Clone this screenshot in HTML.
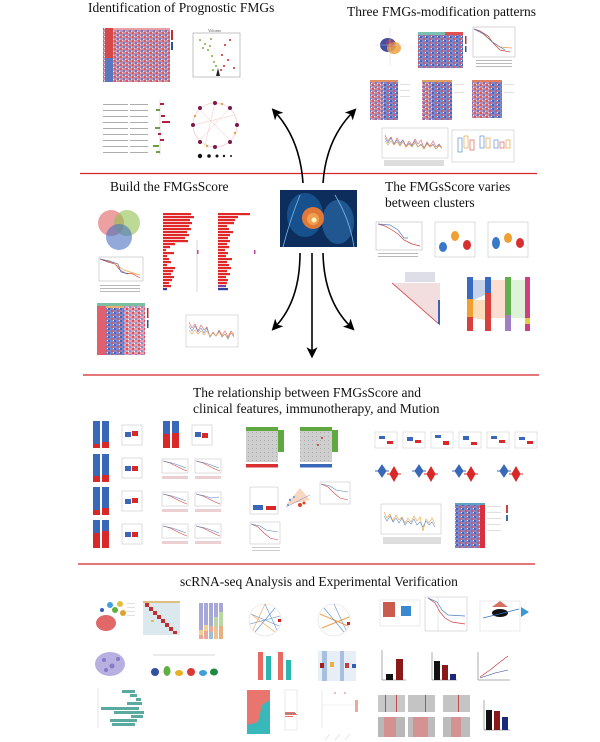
<!DOCTYPE html>
<html><head><meta charset="utf-8"><style>
html,body{margin:0;padding:0;background:#fff}
svg{display:block}
text{font-family:"Liberation Serif",serif;fill:#111}
.t{font-size:13.5px}
.s{font-size:4px;fill:#555}
</style></head><body>
<svg width="600" height="742" viewBox="0 0 600 742" xmlns="http://www.w3.org/2000/svg">
<defs>
<pattern id="hm" width="6" height="4" patternUnits="userSpaceOnUse">
<rect width="6" height="4" fill="#c890a8"/>
<rect x="0" y="0" width="2" height="2" fill="#d85860"/>
<rect x="3" y="2" width="2" height="2" fill="#6a78c4"/>
<rect x="2" y="0" width="1" height="1" fill="#f0e0e8"/>
<rect x="5" y="3" width="1" height="1" fill="#f0e0e8"/>
</pattern>
<pattern id="hmb" width="6" height="4" patternUnits="userSpaceOnUse">
<rect width="6" height="4" fill="#8088c8"/>
<rect x="0" y="0" width="2" height="2" fill="#5060b8"/>
<rect x="3" y="2" width="2" height="2" fill="#c85868"/>
<rect x="5" y="0" width="1" height="1" fill="#eee"/>
</pattern>
<pattern id="hmr" width="6" height="4" patternUnits="userSpaceOnUse">
<rect width="6" height="4" fill="#e0a0b0"/>
<rect x="0" y="0" width="2" height="2" fill="#d85060"/>
<rect x="3" y="2" width="2" height="2" fill="#8890d0"/>
<rect x="2" y="3" width="1" height="1" fill="#fff"/>
</pattern>
<pattern id="gr" width="4" height="4" patternUnits="userSpaceOnUse">
<rect width="4" height="4" fill="#cfcfcf"/><rect width="1" height="1" fill="#aaa"/>
</pattern>
<marker id="ah" markerWidth="7" markerHeight="7" refX="3" refY="3.5" orient="auto" markerUnits="strokeWidth">
<path d="M0,0 L7,3.5 L0,7 L1.8,3.5 z" fill="#000"/>
</marker>
</defs>

<text class="t" x="88" y="12">Identification of Prognostic FMGs</text>
<text class="t" x="347" y="16">Three FMGs-modification patterns</text>
<text class="t" x="110" y="191">Build the FMGsScore</text>
<text class="t" x="385" y="191">The FMGsScore varies</text>
<text class="t" x="385" y="207">between clusters</text>
<text class="t" x="193" y="397">The relationship between FMGsScore and</text>
<text class="t" x="193" y="413">clinical features, immunotherapy, and Mution</text>
<text class="t" x="180" y="586">scRNA-seq Analysis and Experimental Verification</text>

<line x1="80" y1="173.5" x2="537" y2="173.5" stroke="#d42828" stroke-width="1.2"/>
<line x1="83" y1="375" x2="539" y2="375" stroke="#d42828" stroke-width="1.2"/>
<line x1="78" y1="564" x2="535" y2="564" stroke="#d42828" stroke-width="1.2"/>

<rect x="103" y="28" width="67" height="54" fill="url(#hm)"/>
<rect x="105" y="28" width="8" height="30" fill="#d84848"/>
<rect x="105" y="58" width="8" height="24" fill="#5a78c0"/>
<rect x="113" y="28" width="57" height="2" fill="#e8a0a8"/>
<rect x="171" y="30" width="2" height="10" fill="#c03030"/><rect x="171" y="42" width="2" height="8" fill="#3050a0"/>
<rect x="193" y="33" width="47" height="44" fill="none" stroke="#888" stroke-width="0.5"/>
<g fill="#7ab040"><circle cx="200" cy="40" r="1"/><circle cx="205" cy="44" r="1"/><circle cx="208" cy="50" r="1"/><circle cx="212" cy="56" r="1"/><circle cx="214" cy="62" r="1"/><circle cx="210" cy="46" r="1"/><circle cx="216" cy="66" r="1"/><circle cx="213" cy="70" r="1"/><circle cx="203" cy="48" r="1"/><circle cx="211" cy="39" r="1"/></g>
<g fill="#d02020"><circle cx="225" cy="45" r="1"/><circle cx="230" cy="40" r="1"/><circle cx="222" cy="55" r="1"/><circle cx="228" cy="60" r="1"/><circle cx="224" cy="66" r="1"/><circle cx="234" cy="68" r="1"/><circle cx="221" cy="70" r="1"/></g>
<path d="M216,76 L218,68 L220,76 Z" fill="#222"/>
<text class="s" x="208" y="32">Volcano</text>
<g fill="#999"><rect x="103" y="104" width="25" height="0.8"/><rect x="103" y="110" width="25" height="0.8"/><rect x="103" y="116" width="25" height="0.8"/><rect x="103" y="122" width="25" height="0.8"/><rect x="103" y="128" width="25" height="0.8"/><rect x="103" y="134" width="25" height="0.8"/><rect x="103" y="140" width="25" height="0.8"/><rect x="103" y="146" width="25" height="0.8"/><rect x="103" y="152" width="25" height="0.8"/></g>
<g fill="#999"><rect x="130" y="104" width="18" height="0.8"/><rect x="130" y="110" width="18" height="0.8"/><rect x="130" y="116" width="18" height="0.8"/><rect x="130" y="122" width="18" height="0.8"/><rect x="130" y="128" width="18" height="0.8"/><rect x="130" y="134" width="18" height="0.8"/><rect x="130" y="140" width="18" height="0.8"/><rect x="130" y="146" width="18" height="0.8"/><rect x="130" y="152" width="18" height="0.8"/></g>
<line x1="160" y1="100" x2="160" y2="155" stroke="#bbb" stroke-width="0.5"/>
<g fill="#b02040"><rect x="160" y="103" width="4" height="2"/><rect x="161" y="115" width="4" height="2"/><rect x="162" y="121" width="8" height="2"/><rect x="158" y="133" width="3" height="2"/><rect x="160" y="139" width="4" height="2"/></g>
<g fill="#6aa040"><rect x="156" y="109" width="4" height="2"/><rect x="155" y="127" width="5" height="2"/><rect x="153" y="145" width="6" height="2"/><rect x="156" y="151" width="4" height="2"/></g>
<circle cx="215" cy="125" r="22" fill="none" stroke="#f0c0c0" stroke-width="0.6"/>
<g stroke="#f2b4b4" stroke-width="0.4"><line x1="200" y1="110" x2="230" y2="140"/><line x1="215" y1="103" x2="205" y2="145"/><line x1="193" y1="125" x2="235" y2="115"/><line x1="230" y1="108" x2="200" y2="140"/></g>
<g fill="#7a1848"><circle cx="215" cy="103" r="2"/><circle cx="230" cy="108" r="2"/><circle cx="237" cy="125" r="2"/><circle cx="230" cy="142" r="2"/><circle cx="215" cy="147" r="2"/><circle cx="200" cy="142" r="2"/><circle cx="193" cy="125" r="2"/><circle cx="200" cy="108" r="2"/></g>
<g fill="#e8a040"><circle cx="222" cy="104" r="1.2"/><circle cx="235" cy="133" r="1.2"/><circle cx="195" cy="116" r="1.2"/><circle cx="207" cy="146" r="1.2"/></g>
<g fill="#111"><circle cx="200" cy="156" r="2.2"/><circle cx="209" cy="156" r="1.8"/><circle cx="217" cy="156" r="1.5"/><circle cx="224" cy="156" r="1.2"/><circle cx="231" cy="156" r="1"/></g>

<ellipse cx="388" cy="45" rx="8" ry="7" fill="#4050a0"/>
<ellipse cx="394" cy="48" rx="7" ry="6" fill="#f0a040" opacity="0.85"/>
<ellipse cx="390" cy="43" rx="4" ry="4" fill="#d04050" opacity="0.5"/>
<line x1="375" y1="45" x2="405" y2="45" stroke="#ccc" stroke-width="0.4"/><line x1="390" y1="28" x2="390" y2="65" stroke="#ccc" stroke-width="0.4"/>
<rect x="418" y="32" width="45" height="36" fill="url(#hmb)"/>
<rect x="418" y="32" width="45" height="3" fill="#7ac0b0"/><rect x="445" y="32" width="18" height="3" fill="#e05050"/>
<rect x="465" y="36" width="1.5" height="8" fill="#c03030"/><rect x="465" y="46" width="1.5" height="6" fill="#3050a0"/>
<rect x="473" y="27" width="42" height="30" fill="none" stroke="#999" stroke-width="0.4"/>
<path d="M474,29 L480,31 L488,36 L494,44 L500,50 L510,52" fill="none" stroke="#d04030" stroke-width="0.7"/>
<path d="M474,29 L482,33 L490,40 L500,47 L512,48" fill="none" stroke="#e8a040" stroke-width="0.7"/>
<path d="M474,29 L484,34 L492,42 L505,50" fill="none" stroke="#5070c0" stroke-width="0.7"/>
<g fill="#888"><rect x="476" y="60" width="36" height="0.6"/><rect x="476" y="63" width="36" height="0.6"/><rect x="476" y="66" width="36" height="0.6"/></g>
<rect x="370" y="80" width="28" height="40" fill="url(#hmb)"/><rect x="370" y="80" width="14" height="40" fill="url(#hm)"/><rect x="370" y="80" width="28" height="2" fill="#e09060"/>
<rect x="422" y="80" width="30" height="40" fill="url(#hmb)"/><rect x="422" y="80" width="10" height="40" fill="url(#hm)"/><rect x="422" y="80" width="30" height="2" fill="#e0a060"/>
<rect x="472" y="80" width="30" height="38" fill="url(#hm)"/><rect x="490" y="80" width="12" height="38" fill="url(#hmb)"/><rect x="472" y="80" width="30" height="2" fill="#e08060"/>
<g fill="#ccc"><rect x="400" y="84" width="10" height="0.6"/><rect x="400" y="90" width="10" height="0.6"/><rect x="400" y="96" width="10" height="0.6"/><rect x="454" y="84" width="10" height="0.6"/><rect x="454" y="92" width="10" height="0.6"/><rect x="504" y="84" width="10" height="0.6"/><rect x="504" y="92" width="10" height="0.6"/></g>
<rect x="382" y="128" width="66" height="30" fill="none" stroke="#aaa" stroke-width="0.4"/>
<g fill="none" stroke-width="0.6"><path d="M385,135 l3,6 l3,-4 l3,7 l3,-6 l3,5 l3,-3 l3,6 l3,-5 l3,4 l3,-6 l3,5 l3,-4 l3,8 l3,-6 l3,4 l3,-5 l3,6 l3,-3 l3,4" stroke="#e06060"/><path d="M385,138 l3,5 l3,-5 l3,6 l3,-4 l3,5 l3,-5 l3,7 l3,-4 l3,3 l3,-5 l3,6 l3,-3 l3,5 l3,-6 l3,4 l3,-3 l3,5 l3,-4 l3,3" stroke="#6090d0"/><path d="M385,141 l3,4 l3,-4 l3,4 l3,-3 l3,4 l3,-4 l3,5 l3,-3 l3,3 l3,-4 l3,4 l3,-2 l3,4 l3,-5 l3,3 l3,-2 l3,4 l3,-3 l3,2" stroke="#e8a040"/></g>
<g fill="#bbb"><rect x="384" y="160" width="60" height="6" opacity="0.5"/></g>
<rect x="452" y="130" width="62" height="32" fill="none" stroke="#aaa" stroke-width="0.4"/>
<g fill="none" stroke-width="0.7"><rect x="458" y="138" width="4" height="14" stroke="#6090d0"/><rect x="464" y="136" width="4" height="12" stroke="#e8a040"/><rect x="470" y="140" width="4" height="10" stroke="#e06060"/><rect x="480" y="136" width="4" height="12" stroke="#6090d0"/><rect x="486" y="138" width="4" height="10" stroke="#e8a040"/><rect x="494" y="140" width="4" height="8" stroke="#6090d0"/><rect x="500" y="142" width="4" height="6" stroke="#e06060"/><rect x="506" y="140" width="4" height="8" stroke="#e8a040"/></g>

<rect x="280" y="190" width="77" height="57" fill="#0d2e5c"/>
<ellipse cx="305" cy="215" rx="18" ry="22" fill="#1a5a9a" opacity="0.8"/>
<ellipse cx="338" cy="222" rx="16" ry="22" fill="#2a6aa8" opacity="0.7"/>
<circle cx="313" cy="218" r="11" fill="#e07838"/><circle cx="313" cy="219" r="6" fill="#f0a050"/><circle cx="314" cy="220" r="2.5" fill="#fff4c0"/>
<path d="M283,247 Q290,220 300,195" stroke="#7ab8e8" stroke-width="0.8" fill="none"/>
<path d="M354,247 Q350,220 335,195" stroke="#7ab8e8" stroke-width="0.8" fill="none"/>

<g stroke="#000" stroke-width="1.6" fill="none">
<path d="M303,183 Q300,140 276,113" marker-end="url(#ah)"/>
<path d="M323,183 Q326,140 352,113" marker-end="url(#ah)"/>
<path d="M300,253 Q300,300 276,326" marker-end="url(#ah)"/>
<path d="M312,253 L312,352" marker-end="url(#ah)"/>
<path d="M323,253 Q324,300 350,326" marker-end="url(#ah)"/>
</g>

<circle cx="111" cy="223" r="13" fill="#e06060" opacity="0.6"/>
<circle cx="127" cy="223" r="13" fill="#90c050" opacity="0.6"/>
<circle cx="119" cy="237" r="13" fill="#4a70c0" opacity="0.6"/>
<g fill="#e02828">
<rect x="163" y="213" width="28" height="2.2"/><rect x="163" y="216" width="31" height="2.2"/><rect x="163" y="219" width="27" height="2.2"/><rect x="163" y="222" width="29" height="2.2"/><rect x="163" y="225" width="26" height="2.2"/><rect x="163" y="228" width="28" height="2.2"/><rect x="163" y="231" width="24" height="2.2"/><rect x="163" y="234" width="26" height="2.2"/><rect x="163" y="237" width="22" height="2.2"/><rect x="163" y="240" width="25" height="2.2"/><rect x="163" y="243" width="12" height="2.2"/><rect x="163" y="246" width="7" height="2.2"/><rect x="163" y="249" width="3" height="2.2"/><rect x="163" y="252" width="11" height="2.2"/><rect x="163" y="255" width="4" height="2.2"/><rect x="163" y="258" width="6" height="2.2"/><rect x="163" y="261" width="8" height="2.2"/><rect x="163" y="264" width="4" height="2.2"/><rect x="163" y="267" width="12" height="2.2"/><rect x="163" y="270" width="10" height="2.2"/><rect x="163" y="273" width="8" height="2.2"/><rect x="163" y="276" width="11" height="2.2"/><rect x="163" y="279" width="9" height="2.2"/><rect x="163" y="282" width="6" height="2.2"/><rect x="163" y="285" width="8" height="2.2"/>
</g><rect x="163" y="288" width="4" height="2.2" fill="#3040a0"/>
<line x1="197" y1="240" x2="197" y2="292" stroke="#aaa" stroke-width="0.5"/>
<g fill="#e02828">
<rect x="218" y="213" width="32" height="2.2"/><rect x="218" y="216" width="20" height="2.2"/><rect x="218" y="219" width="17" height="2.2"/><rect x="218" y="222" width="16" height="2.2"/><rect x="218" y="225" width="9" height="2.2"/><rect x="218" y="228" width="11" height="2.2"/><rect x="218" y="231" width="15" height="2.2"/><rect x="218" y="234" width="12" height="2.2"/><rect x="218" y="237" width="10" height="2.2"/><rect x="218" y="240" width="12" height="2.2"/><rect x="218" y="243" width="9" height="2.2"/><rect x="218" y="246" width="11" height="2.2"/><rect x="218" y="249" width="7" height="2.2"/><rect x="218" y="252" width="10" height="2.2"/><rect x="218" y="255" width="8" height="2.2"/><rect x="218" y="258" width="14" height="2.2"/><rect x="218" y="261" width="9" height="2.2"/><rect x="218" y="264" width="11" height="2.2"/><rect x="218" y="267" width="13" height="2.2"/><rect x="218" y="270" width="9" height="2.2"/><rect x="218" y="273" width="12" height="2.2"/><rect x="218" y="276" width="8" height="2.2"/><rect x="218" y="279" width="10" height="2.2"/><rect x="218" y="282" width="9" height="2.2"/></g>
<rect x="218" y="285" width="8" height="2.2" fill="#8040a0"/><rect x="218" y="288" width="10" height="2.2" fill="#3040a0"/>
<rect x="254" y="250" width="1.5" height="4" fill="#c040a0"/><rect x="197" y="250" width="1.5" height="4" fill="#c040a0"/>
<rect x="99" y="257" width="44" height="24" fill="none" stroke="#999" stroke-width="0.4"/>
<path d="M100,259 L108,262 L115,264 L120,270 L125,273 L133,274 L140,278" fill="none" stroke="#d04030" stroke-width="0.7"/>
<path d="M100,259 L110,261 L118,266 L124,270 L130,272 L140,275" fill="none" stroke="#f0a040" stroke-width="0.7"/>
<path d="M100,259 L112,262 L118,264 L121,272 L128,274" fill="none" stroke="#5070c0" stroke-width="0.7"/>
<g fill="#888"><rect x="100" y="285" width="40" height="0.6"/><rect x="100" y="288" width="40" height="0.6"/><rect x="100" y="291" width="40" height="0.6"/></g>
<rect x="97" y="303" width="48" height="52" fill="url(#hmr)"/>
<rect x="106" y="306" width="18" height="49" fill="url(#hmb)"/>
<rect x="97" y="303" width="48" height="3" fill="#7ac0a0"/><rect x="106" y="306" width="18" height="2" fill="#e8b070"/>
<rect x="97" y="306" width="9" height="49" fill="#e06070"/>
<rect x="147" y="308" width="1.5" height="10" fill="#c03030"/><rect x="147" y="320" width="1.5" height="8" fill="#3050a0"/>
<rect x="186" y="315" width="52" height="32" fill="none" stroke="#aaa" stroke-width="0.4"/>
<g fill="none" stroke-width="0.6"><path d="M189,322 l3,6 l3,-4 l3,7 l3,-6 l3,5 l3,-3 l3,10 l3,-5 l3,4 l3,-6 l3,5 l3,-4 l3,6 l3,-6 l3,4" stroke="#e06060"/><path d="M189,326 l3,5 l3,-5 l3,6 l3,-4 l3,5 l3,-5 l3,9 l3,-4 l3,3 l3,-5 l3,6 l3,-3 l3,5 l3,-6 l3,4" stroke="#6090d0"/><path d="M189,330 l3,4 l3,-4 l3,4 l3,-3 l3,4 l3,-4 l3,5 l3,-3 l3,3 l3,-4 l3,4 l3,-2 l3,4 l3,-5 l3,3" stroke="#e8a040"/></g>

<rect x="376" y="222" width="46" height="28" fill="none" stroke="#999" stroke-width="0.4"/>
<path d="M378,224 L385,226 L392,230 L398,234 L404,240 L412,244 L420,246" fill="none" stroke="#d04040" stroke-width="0.7"/>
<path d="M378,224 L390,225 L398,230 L404,238 L408,238" fill="none" stroke="#5080c0" stroke-width="0.7"/>
<g fill="#888"><rect x="378" y="253" width="40" height="0.6"/><rect x="378" y="256" width="40" height="0.6"/></g>
<rect x="435" y="222" width="40" height="35" fill="none" stroke="#aaa" stroke-width="0.4"/>
<ellipse cx="443" cy="247" rx="4" ry="5" fill="#3a78c8"/><ellipse cx="455" cy="236" rx="4" ry="5" fill="#f0a030"/><ellipse cx="467" cy="245" rx="4" ry="5" fill="#d83030"/>
<rect x="488" y="222" width="40" height="35" fill="none" stroke="#aaa" stroke-width="0.4"/>
<ellipse cx="496" cy="243" rx="4" ry="6" fill="#3a78c8"/><ellipse cx="508" cy="238" rx="4" ry="5" fill="#f0a030"/><ellipse cx="520" cy="243" rx="4" ry="5" fill="#d83030"/>
<path d="M392,283 L440,283 L440,325 Z" fill="#f2dede"/>
<path d="M392,283 L440,325" stroke="#d03030" stroke-width="0.8"/>
<g fill="#c8c8d8"><rect x="405" y="272" width="30" height="10" opacity="0.6"/></g>
<rect x="438" y="300" width="2" height="24" fill="#4060c0"/>
<rect x="467" y="277" width="6" height="54" fill="#d84040"/><rect x="467" y="277" width="6" height="22" fill="#3a6ac0"/><rect x="467" y="299" width="6" height="18" fill="#f0a030"/>
<rect x="485" y="277" width="6" height="54" fill="#d84040"/><rect x="485" y="277" width="6" height="16" fill="#3a6ac0"/>
<rect x="505" y="277" width="6" height="54" fill="#60b050"/><rect x="505" y="315" width="6" height="16" fill="#a080c0"/>
<rect x="525" y="277" width="5" height="54" fill="#d04080"/><rect x="525" y="318" width="5" height="6" fill="#e0d040"/>
<path d="M473,280 L485,280 L485,295 L473,300 Z" fill="#b0c0e0" opacity="0.7"/>
<path d="M473,300 L485,300 L485,320 L473,318 Z" fill="#f8d0a0" opacity="0.7"/>
<path d="M491,280 L505,280 L505,318 L491,318 Z" fill="#f8c8b0" opacity="0.6"/>
<path d="M511,280 L525,280 L525,318 L511,318 Z" fill="#c8e8c0" opacity="0.6"/>

<g>
<rect x="93" y="421" width="7" height="27" fill="#3a68b8"/><rect x="93" y="444" width="7" height="4" fill="#d82828"/>
<rect x="102" y="421" width="7" height="27" fill="#3a68b8"/><rect x="102" y="442" width="7" height="6" fill="#d82828"/>
<rect x="93" y="454" width="7" height="28" fill="#3a68b8"/><rect x="93" y="476" width="7" height="6" fill="#d82828"/>
<rect x="102" y="454" width="7" height="28" fill="#3a68b8"/><rect x="102" y="475" width="7" height="7" fill="#d82828"/>
<rect x="93" y="487" width="7" height="28" fill="#3a68b8"/><rect x="93" y="510" width="7" height="5" fill="#d82828"/>
<rect x="102" y="487" width="7" height="28" fill="#3a68b8"/><rect x="102" y="508" width="7" height="7" fill="#d82828"/>
<rect x="93" y="520" width="7" height="28" fill="#3a68b8"/><rect x="93" y="533" width="7" height="15" fill="#d82828"/>
<rect x="102" y="520" width="7" height="28" fill="#3a68b8"/><rect x="102" y="531" width="7" height="17" fill="#d82828"/>
<rect x="125" y="432" width="6" height="5" fill="#3a68b8"/><rect x="132" y="431" width="6" height="5" fill="#d82828"/>
<rect x="125" y="466" width="6" height="5" fill="#3a68b8"/><rect x="132" y="466" width="6" height="5" fill="#d82828"/>
<rect x="125" y="499" width="6" height="5" fill="#3a68b8"/><rect x="132" y="498" width="6" height="5" fill="#d82828"/>
<rect x="125" y="532" width="6" height="5" fill="#3a68b8"/><rect x="132" y="532" width="6" height="5" fill="#d82828"/>
<g fill="none" stroke="#aaa" stroke-width="0.4"><rect x="122" y="425" width="20" height="20"/><rect x="122" y="458" width="20" height="20"/><rect x="122" y="491" width="20" height="20"/><rect x="122" y="524" width="20" height="20"/></g>
<rect x="163" y="421" width="7" height="27" fill="#3a68b8"/><rect x="163" y="434" width="7" height="14" fill="#d82828"/>
<rect x="172" y="421" width="7" height="27" fill="#3a68b8"/><rect x="172" y="433" width="7" height="15" fill="#d82828"/>
<rect x="195" y="432" width="6" height="5" fill="#3a68b8"/><rect x="202" y="433" width="6" height="5" fill="#d82828"/>
<rect x="192" y="425" width="20" height="20" fill="none" stroke="#aaa" stroke-width="0.4"/>
<g fill="none" stroke-width="0.6">
<g transform="translate(162,459)"><rect width="26" height="14" stroke="#aaa" stroke-width="0.4"/><path d="M1,2 L8,4 L14,7 L20,10 L25,12" stroke="#d04040"/><path d="M1,2 L10,4 L16,6 L24,9" stroke="#5080c0"/></g>
<g transform="translate(195,459)"><rect width="26" height="14" stroke="#aaa" stroke-width="0.4"/><path d="M1,2 L8,4 L14,7 L20,10 L25,12" stroke="#d04040"/><path d="M1,2 L10,4 L16,6 L24,9" stroke="#5080c0"/></g>
<g transform="translate(162,492)"><rect width="26" height="14" stroke="#aaa" stroke-width="0.4"/><path d="M1,2 L8,4 L14,7 L20,10 L25,12" stroke="#d04040"/><path d="M1,2 L10,4 L16,6 L24,9" stroke="#5080c0"/></g>
<g transform="translate(195,492)"><rect width="26" height="14" stroke="#aaa" stroke-width="0.4"/><path d="M1,2 L8,4 L14,7 L20,10 L25,12" stroke="#d04040"/><path d="M1,2 L10,4 L16,6 L24,5" stroke="#5080c0"/></g>
<g transform="translate(162,524)"><rect width="26" height="14" stroke="#aaa" stroke-width="0.4"/><path d="M1,2 L8,4 L14,7 L20,10 L25,12" stroke="#d04040"/><path d="M1,2 L10,4 L16,6 L24,9" stroke="#5080c0"/></g>
<g transform="translate(195,524)"><rect width="26" height="14" stroke="#aaa" stroke-width="0.4"/><path d="M1,2 L8,4 L14,7 L20,10 L25,12" stroke="#d04040"/><path d="M1,2 L10,4 L16,6 L24,9" stroke="#5080c0"/></g>
</g>
<g fill="#d8a0a8"><rect x="162" y="476" width="26" height="3" opacity="0.5"/><rect x="195" y="476" width="26" height="3" opacity="0.5"/><rect x="162" y="509" width="26" height="3" opacity="0.5"/><rect x="195" y="509" width="26" height="3" opacity="0.5"/><rect x="162" y="541" width="26" height="3" opacity="0.5"/><rect x="195" y="541" width="26" height="3" opacity="0.5"/></g>
</g>
<rect x="246" y="430" width="32" height="32" fill="url(#gr)"/><rect x="246" y="427" width="32" height="4" fill="#60a840"/><rect x="278" y="430" width="6" height="22" fill="#60a840"/>
<rect x="246" y="464" width="32" height="3.5" fill="#d83030"/>
<rect x="300" y="430" width="32" height="32" fill="url(#gr)"/><rect x="300" y="427" width="32" height="4" fill="#60a840"/><rect x="332" y="430" width="6" height="22" fill="#60a840"/>
<rect x="300" y="464" width="32" height="3.5" fill="#3a68b8"/>
<g fill="#c03030"><circle cx="318" cy="445" r="1"/><circle cx="322" cy="438" r="1"/></g>
<rect x="250" y="487" width="28" height="27" fill="none" stroke="#aaa" stroke-width="0.4"/>
<rect x="253" y="505" width="10" height="5" fill="#3a68b8"/><rect x="266" y="506" width="10" height="4" fill="#d82828"/>
<path d="M286,505 L310,500 L300,488 Z" fill="#f0b080" opacity="0.5"/>
<g fill="#e04020"><circle cx="300" cy="505" r="2"/><circle cx="304" cy="503" r="1.5"/></g>
<g fill="#6090d0"><circle cx="290" cy="500" r="1.2"/><circle cx="294" cy="497" r="1"/><circle cx="288" cy="505" r="1"/></g>
<line x1="286" y1="507" x2="310" y2="495" stroke="#8080d0" stroke-width="0.5"/>
<rect x="320" y="482" width="30" height="22" fill="none" stroke="#aaa" stroke-width="0.4"/>
<path d="M321,484 L328,487 L334,493 L340,498 L348,500" fill="none" stroke="#d04040" stroke-width="0.6"/><path d="M321,484 L330,486 L336,490 L348,492" fill="none" stroke="#5080c0" stroke-width="0.6"/>
<rect x="250" y="522" width="30" height="22" fill="none" stroke="#aaa" stroke-width="0.4"/>
<path d="M251,524 L258,527 L264,533 L270,538 L278,540" fill="none" stroke="#d04040" stroke-width="0.6"/><path d="M251,524 L260,526 L266,530 L278,532" fill="none" stroke="#5080c0" stroke-width="0.6"/>
<g fill="#aaa"><rect x="252" y="547" width="28" height="0.6"/><rect x="252" y="550" width="28" height="0.6"/></g>
<g>
<g transform="translate(375,432)"><rect width="22" height="16" fill="none" stroke="#bbb" stroke-width="0.4"/><rect x="4" y="4" width="6" height="3" fill="#3a68b8"/><rect x="12" y="9" width="6" height="3" fill="#d82828"/></g>
<g transform="translate(403,432)"><rect width="22" height="16" fill="none" stroke="#bbb" stroke-width="0.4"/><rect x="4" y="5" width="6" height="4" fill="#3a68b8"/><rect x="12" y="8" width="6" height="3" fill="#d82828"/></g>
<g transform="translate(431,432)"><rect width="22" height="16" fill="none" stroke="#bbb" stroke-width="0.4"/><rect x="4" y="3" width="6" height="3" fill="#3a68b8"/><rect x="12" y="9" width="6" height="4" fill="#d82828"/></g>
<g transform="translate(459,432)"><rect width="22" height="16" fill="none" stroke="#bbb" stroke-width="0.4"/><rect x="4" y="4" width="6" height="4" fill="#3a68b8"/><rect x="12" y="10" width="6" height="3" fill="#d82828"/></g>
<g transform="translate(487,432)"><rect width="22" height="16" fill="none" stroke="#bbb" stroke-width="0.4"/><rect x="4" y="4" width="6" height="3" fill="#3a68b8"/><rect x="12" y="8" width="6" height="3" fill="#d82828"/></g>
<g transform="translate(515,432)"><rect width="22" height="16" fill="none" stroke="#bbb" stroke-width="0.4"/><rect x="4" y="5" width="6" height="3" fill="#3a68b8"/><rect x="12" y="9" width="6" height="3" fill="#d82828"/></g>
</g>
<g>
<path d="M382,465 L386,471 L382,477 L378,471 Z M375,471 L389,471" stroke="#3a68b8" stroke-width="1" fill="#3a68b8"/>
<path d="M394,467 L398,474 L394,481 L390,474 Z M387,474 L401,474" stroke="#d82828" stroke-width="1" fill="#d82828"/>
<path d="M419,465 L423,471 L419,477 L415,471 Z M412,471 L426,471" stroke="#3a68b8" stroke-width="1" fill="#3a68b8"/>
<path d="M431,467 L435,474 L431,481 L427,474 Z M424,474 L438,474" stroke="#d82828" stroke-width="1" fill="#d82828"/>
<path d="M459,465 L463,471 L459,477 L455,471 Z M452,471 L466,471" stroke="#3a68b8" stroke-width="1" fill="#3a68b8"/>
<path d="M471,467 L475,474 L471,481 L467,474 Z M464,474 L478,474" stroke="#d82828" stroke-width="1" fill="#d82828"/>
<path d="M504,465 L508,471 L504,477 L500,471 Z M497,471 L511,471" stroke="#3a68b8" stroke-width="1" fill="#3a68b8"/>
<path d="M516,467 L520,474 L516,481 L512,474 Z M509,474 L523,474" stroke="#d82828" stroke-width="1" fill="#d82828"/>
</g>
<rect x="381" y="504" width="60" height="30" fill="none" stroke="#aaa" stroke-width="0.4"/>
<g fill="none" stroke-width="0.6"><path d="M384,512 l3,6 l3,-4 l3,7 l3,-6 l3,5 l3,-3 l3,6 l3,-5 l3,4 l3,-6 l3,5 l3,-4 l3,14 l3,-12 l3,4 l3,-5 l3,6" stroke="#e8a040"/><path d="M384,516 l3,5 l3,-5 l3,6 l3,-4 l3,5 l3,-5 l3,7 l3,-4 l3,3 l3,-5 l3,6 l3,-3 l3,5 l3,-6 l3,4 l3,-3 l3,5" stroke="#6090d0"/></g>
<g fill="#bbb"><rect x="383" y="537" width="58" height="7" opacity="0.5"/></g>
<rect x="455" y="503" width="30" height="45" fill="url(#hmb)"/><rect x="480" y="503" width="5" height="45" fill="#d83040"/><rect x="455" y="503" width="30" height="2" fill="#60a0c0"/>
<g fill="#ccc"><rect x="487" y="506" width="14" height="0.6"/><rect x="487" y="512" width="14" height="0.6"/><rect x="487" y="518" width="14" height="0.6"/><rect x="487" y="524" width="14" height="0.6"/><rect x="487" y="530" width="14" height="0.6"/></g>
<rect x="506" y="505" width="2" height="8" fill="#d04040"/><rect x="506" y="515" width="2" height="6" fill="#3a68b8"/>

<ellipse cx="106" cy="623" rx="10" ry="8" fill="#e06868"/>
<ellipse cx="110" cy="605" rx="3" ry="3" fill="#40a0e0"/><ellipse cx="115" cy="610" rx="3" ry="3" fill="#60b040"/><ellipse cx="120" cy="604" rx="3" ry="3" fill="#e0c040"/><ellipse cx="123" cy="613" rx="3" ry="3" fill="#e0a030"/><ellipse cx="102" cy="610" rx="2" ry="2" fill="#3060c0"/>
<g fill="#ccc"><rect x="127" y="603" width="8" height="0.6"/><rect x="127" y="607" width="8" height="0.6"/><rect x="127" y="611" width="8" height="0.6"/><rect x="127" y="615" width="8" height="0.6"/></g>
<rect x="143" y="601" width="37" height="34" fill="#dbe8ee"/>
<rect x="143" y="601" width="37" height="2" fill="#e0c080"/>
<g fill="#c03030"><rect x="145" y="603" width="4" height="4"/><rect x="149" y="607" width="4" height="4"/><rect x="153" y="611" width="4" height="4"/><rect x="157" y="615" width="4" height="4"/><rect x="161" y="619" width="4" height="4"/><rect x="165" y="623" width="4" height="4"/><rect x="169" y="627" width="4" height="4"/><rect x="173" y="631" width="4" height="3"/></g>
<rect x="151" y="620" width="3" height="2" fill="#e8c040"/>
<g><rect x="199" y="603" width="4" height="36" fill="#a8a8d8"/><rect x="204" y="603" width="4" height="36" fill="#a8a8d8"/><rect x="209" y="603" width="4" height="36" fill="#a8a8d8"/><rect x="214" y="603" width="4" height="36" fill="#a8a8d8"/><rect x="219" y="603" width="4" height="36" fill="#a8a8d8"/>
<rect x="199" y="630" width="4" height="5" fill="#f0d090"/><rect x="204" y="625" width="4" height="6" fill="#f0d090"/><rect x="209" y="626" width="4" height="6" fill="#e8a8a0"/><rect x="214" y="617" width="4" height="10" fill="#b8d8a0"/><rect x="219" y="612" width="4" height="14" fill="#b8d8a0"/>
<rect x="199" y="635" width="4" height="4" fill="#e8a8a0"/><rect x="204" y="631" width="4" height="8" fill="#e8a8a0"/><rect x="209" y="632" width="4" height="7" fill="#9ac0d0"/><rect x="214" y="627" width="4" height="12" fill="#f0c090"/><rect x="219" y="626" width="4" height="13" fill="#e8b080"/></g>
<ellipse cx="110" cy="664" rx="15" ry="12" fill="#b8b0e0"/>
<g fill="#8878c8"><circle cx="104" cy="660" r="2"/><circle cx="112" cy="666" r="2.5"/><circle cx="118" cy="659" r="2"/><circle cx="106" cy="670" r="2"/></g>
<line x1="148" y1="672" x2="218" y2="672" stroke="#ddd" stroke-width="0.4"/>
<g><ellipse cx="155" cy="672" rx="4" ry="4" fill="#3050a0"/><ellipse cx="167" cy="671" rx="3.5" ry="5" fill="#60b040"/><ellipse cx="179" cy="673" rx="4" ry="3" fill="#e8b020"/><ellipse cx="191" cy="672" rx="4" ry="4" fill="#d83838"/><ellipse cx="203" cy="673" rx="4" ry="3" fill="#40a0d8"/><ellipse cx="214" cy="672" rx="4" ry="3.5" fill="#208840"/></g>
<line x1="153" y1="655" x2="215" y2="655" stroke="#999" stroke-width="0.4"/>
<g fill="#5aaaa0"><rect x="122" y="690" width="13" height="3"/><rect x="130" y="694" width="7" height="3"/><rect x="136" y="698" width="5" height="3"/><rect x="127" y="702" width="15" height="3"/><rect x="101" y="707" width="38" height="3"/><rect x="114" y="711" width="30" height="3"/><rect x="131" y="715" width="12" height="3"/><rect x="110" y="719" width="27" height="3"/><rect x="112" y="723" width="23" height="3"/></g>
<line x1="98" y1="688" x2="98" y2="728" stroke="#bbb" stroke-width="0.4"/>
<g fill="none" stroke-width="0.6">
<g transform="translate(265,620)"><circle r="16" stroke="#ddd"/><path d="M-14,-6 L14,6 M-10,12 L10,-12 M0,-16 L12,10 M-15,4 L15,-4" stroke="#6090d0"/><path d="M-14,-6 L10,12 M0,-16 L-12,10" stroke="#f0a050"/></g>
<g transform="translate(334,620)"><circle r="16" stroke="#ddd"/><path d="M-14,-6 L14,6 M-12,8 L15,-3" stroke="#f0a050" stroke-width="1"/><path d="M0,-16 L12,10 M-10,-12 L10,12" stroke="#6090d0"/></g>
</g>
<rect x="278" y="619" width="3" height="3" fill="#d02020"/><rect x="347" y="622" width="3" height="3" fill="#d02020"/>
<rect x="258" y="652" width="5" height="28" fill="#e86a62"/><rect x="266" y="656" width="5" height="24" fill="#28b8b0"/><rect x="278" y="652" width="5" height="28" fill="#e86a62"/><rect x="286" y="660" width="5" height="20" fill="#28b8b0"/>
<rect x="318" y="651" width="38" height="30" fill="#e8eef6"/>
<g fill="#a8c0e0"><rect x="322" y="651" width="5" height="30"/><rect x="340" y="651" width="4" height="30"/></g>
<rect x="320" y="663" width="4" height="5" fill="#a02020"/><rect x="330" y="662" width="4" height="5" fill="#e8b040"/><rect x="345" y="663" width="4" height="5" fill="#c04040"/><rect x="352" y="664" width="4" height="4" fill="#3060b0"/>
<rect x="247" y="690" width="23" height="44" fill="#e8766e"/><path d="M247,734 L247,725 L258,722 L262,705 L270,700 L270,734 Z" fill="#38b8b8"/>
<rect x="285" y="690" width="12" height="40" fill="none" stroke="#ccc" stroke-width="0.4"/><g fill="#e8766e"><rect x="285" y="712" width="10" height="1"/><rect x="285" y="714" width="12" height="1"/><rect x="285" y="716" width="8" height="1"/></g><g fill="#888"><rect x="285" y="713" width="11" height="1"/></g>
<line x1="322" y1="690" x2="322" y2="728" stroke="#ccc" stroke-width="0.4"/><line x1="322" y1="705" x2="355" y2="705" stroke="#ddd" stroke-width="0.4"/>
<g fill="#e86a62"><circle cx="335" cy="693" r="0.8"/><circle cx="345" cy="693" r="0.8"/></g>
<rect x="355" y="700" width="3" height="12" fill="#e07050" opacity="0.6"/>
<g stroke="#e8a0a0" stroke-width="0.4"><line x1="325" y1="740" x2="330" y2="734"/><line x1="335" y1="740" x2="340" y2="734"/><line x1="345" y1="740" x2="350" y2="734"/></g>
<rect x="380" y="600" width="40" height="26" fill="none" stroke="#ccc" stroke-width="0.4"/>
<rect x="383" y="602" width="12" height="15" fill="#c0402e" opacity="0.85"/><rect x="401" y="606" width="10" height="10" fill="#3a88d0"/>
<rect x="425" y="597" width="42" height="34" fill="none" stroke="#aaa" stroke-width="0.4"/>
<path d="M428,598 L435,603 L440,612 L445,618 L452,622 L465,624" fill="none" stroke="#d04040" stroke-width="0.7"/><path d="M428,598 L437,602 L442,610 L448,615 L465,616" fill="none" stroke="#5080c0" stroke-width="0.7"/>
<line x1="438" y1="631" x2="438" y2="597" stroke="#aaa" stroke-width="0.3"/>
<rect x="480" y="601" width="40" height="30" fill="none" stroke="#ccc" stroke-width="0.4"/>
<path d="M492,607 L500,601 L508,607 Z" fill="#d87060"/><path d="M521,607 L529,612 L521,617 Z" fill="#3a98d8"/>
<ellipse cx="500" cy="613" rx="8" ry="4" fill="#111"/><line x1="483" y1="618" x2="519" y2="609" stroke="#3070c0" stroke-width="0.7"/>
<line x1="382" y1="650" x2="382" y2="680" stroke="#333" stroke-width="0.4"/><line x1="382" y1="680" x2="406" y2="680" stroke="#333" stroke-width="0.4"/>
<rect x="386" y="674" width="7" height="6" fill="#111"/><rect x="396" y="659" width="7" height="21" fill="#8a1a1a"/>
<line x1="432" y1="652" x2="432" y2="680" stroke="#333" stroke-width="0.4"/><line x1="432" y1="680" x2="457" y2="680" stroke="#333" stroke-width="0.4"/>
<rect x="434" y="661" width="6" height="19" fill="#111"/><rect x="442" y="665" width="6" height="15" fill="#8a1a1a"/><rect x="450" y="674" width="6" height="6" fill="#1a2a7a"/>
<line x1="478" y1="652" x2="478" y2="680" stroke="#333" stroke-width="0.4"/><line x1="478" y1="680" x2="510" y2="680" stroke="#333" stroke-width="0.4"/>
<path d="M480,677 L490,670 L500,662 L508,656" stroke="#c03030" stroke-width="0.6" fill="none"/><path d="M480,678 L495,673 L508,670" stroke="#3040a0" stroke-width="0.6" fill="none"/>
<g><rect x="378" y="695" width="27" height="17" fill="#c8c8c8"/><rect x="408" y="695" width="27" height="17" fill="#c4c4c4"/><rect x="443" y="695" width="27" height="17" fill="#c4c4c4"/>
<rect x="378" y="717" width="27" height="20" fill="#b8b8b8"/><rect x="408" y="717" width="27" height="20" fill="#bcbcbc"/><rect x="443" y="717" width="27" height="20" fill="#bcbcbc"/>
<rect x="384" y="717" width="12" height="20" fill="#e08080" opacity="0.7"/><rect x="413" y="717" width="15" height="20" fill="#e08080" opacity="0.7"/><rect x="451" y="717" width="10" height="20" fill="#e08080" opacity="0.7"/>
<rect x="385" y="695" width="1" height="17" fill="#c05050"/><rect x="396" y="695" width="1" height="17" fill="#c05050"/><rect x="425" y="695" width="1" height="17" fill="#c05050"/><rect x="458" y="695" width="1" height="17" fill="#c05050"/></g>
<line x1="484" y1="700" x2="484" y2="730" stroke="#333" stroke-width="0.4"/><line x1="484" y1="730" x2="510" y2="730" stroke="#333" stroke-width="0.4"/>
<rect x="486" y="710" width="6" height="20" fill="#111"/><rect x="494" y="711" width="6" height="19" fill="#8a1a1a"/><rect x="502" y="717" width="6" height="13" fill="#1a2a7a"/>
</svg>
</body></html>
